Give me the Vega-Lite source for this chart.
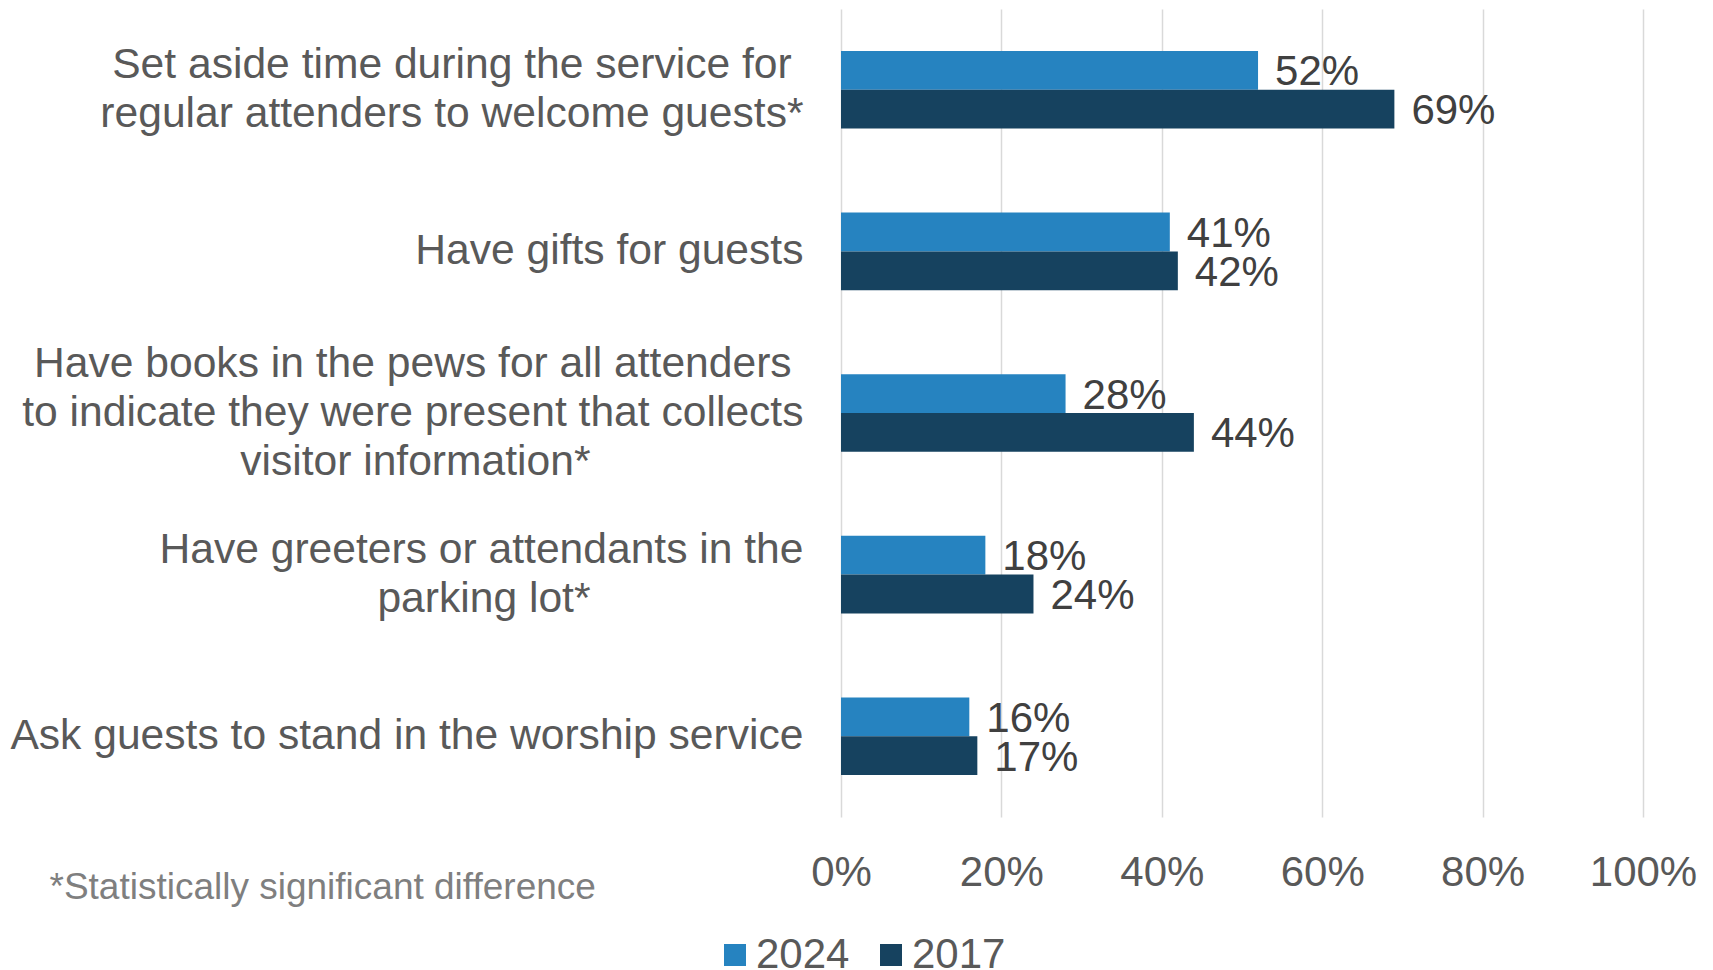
{
  "$schema": "https://vega.github.io/schema/vega-lite/v6.json",
  "width": 802,
  "height": 808,
  "autosize": {"type": "none"},
  "padding": {"left": 841, "top": 9, "right": 70, "bottom": 153},
  "background": "white",
  "config": {"view": {"stroke": null}, "font": "Liberation Sans"},
  "data": {
    "values": [
      {"item": "Set aside time during the service for\u00a0\u200b|regular attenders to welcome guests*", "year": "2024", "value": 0.52},
      {"item": "Set aside time during the service for\u00a0\u200b|regular attenders to welcome guests*", "year": "2017", "value": 0.69},
      {"item": "Have gifts for guests", "year": "2024", "value": 0.41},
      {"item": "Have gifts for guests", "year": "2017", "value": 0.42},
      {"item": "Have books in the pews for all attenders\u00a0\u200b|to indicate they were present that collects|visitor information*\u00a0\u00a0\u00a0\u00a0\u00a0\u00a0\u00a0\u00a0\u00a0\u00a0\u00a0\u00a0\u00a0\u00a0\u00a0\u00a0\u00a0\u00a0\u200b", "year": "2024", "value": 0.28},
      {"item": "Have books in the pews for all attenders\u00a0\u200b|to indicate they were present that collects|visitor information*\u00a0\u00a0\u00a0\u00a0\u00a0\u00a0\u00a0\u00a0\u00a0\u00a0\u00a0\u00a0\u00a0\u00a0\u00a0\u00a0\u00a0\u00a0\u200b", "year": "2017", "value": 0.44},
      {"item": "Have greeters or attendants in the|parking lot*\u00a0\u00a0\u00a0\u00a0\u00a0\u00a0\u00a0\u00a0\u00a0\u00a0\u00a0\u00a0\u00a0\u00a0\u00a0\u00a0\u00a0\u00a0\u200b", "year": "2024", "value": 0.18},
      {"item": "Have greeters or attendants in the|parking lot*\u00a0\u00a0\u00a0\u00a0\u00a0\u00a0\u00a0\u00a0\u00a0\u00a0\u00a0\u00a0\u00a0\u00a0\u00a0\u00a0\u00a0\u00a0\u200b", "year": "2017", "value": 0.24},
      {"item": "Ask guests to stand in the worship service", "year": "2024", "value": 0.16},
      {"item": "Ask guests to stand in the worship service", "year": "2017", "value": 0.17}
    ]
  },
  "encoding": {
    "y": {
      "field": "item",
      "type": "nominal",
      "sort": null,
      "scale": {"paddingInner": 0.52, "paddingOuter": 0.26},
      "axis": {
        "title": null,
        "domain": false,
        "ticks": false,
        "labelPadding": 38,
        "labelFontSize": 42.6,
        "labelColor": "#595959",
        "labelLineHeight": 49,
        "labelLimit": 2000,
        "labelBaseline": "middle",
        "labelOffset": {
          "condition": [
            {"test": "length(split(datum.label, '|')) == 3", "value": -49},
            {"test": "length(split(datum.label, '|')) == 2", "value": -25}
          ],
          "value": 0
        },
        "labelExpr": "split(datum.label, '|')"
      }
    },
    "yOffset": {
      "field": "year",
      "type": "nominal",
      "sort": ["2024", "2017"],
      "scale": {"paddingInner": 0, "paddingOuter": 0}
    },
    "x": {
      "field": "value",
      "type": "quantitative",
      "scale": {"domain": [0, 1]},
      "axis": {
        "title": "*Statistically significant difference",
        "titleX": -792,
        "titleY": 70,
        "titleAlign": "left",
        "titleBaseline": "middle",
        "titleFontSize": 37,
        "titleFontWeight": "normal",
        "titleColor": "#7f7f7f",
        "format": ".0%",
        "values": [0, 0.2, 0.4, 0.6, 0.8, 1],
        "domain": false,
        "ticks": false,
        "tickSize": 0,
        "labelPadding": 35,
        "labelFontSize": 42,
        "labelColor": "#595959",
        "labelFlush": false,
        "grid": true,
        "gridColor": "#d9d9d9",
        "gridWidth": 1.5
      }
    }
  },
  "layer": [
    {
      "mark": {"type": "bar"},
      "encoding": {
        "color": {
          "field": "year",
          "type": "nominal",
          "scale": {"domain": ["2024", "2017"], "range": ["#2683C0", "#16425F"]},
          "legend": {
            "orient": "none",
            "legendX": -127,
            "legendY": 925,
            "direction": "horizontal",
            "title": null,
            "symbolType": "square",
            "symbolSize": 484,
            "symbolStrokeWidth": 0,
            "symbolOpacity": 1,
            "labelFontSize": 42,
            "labelColor": "#595959",
            "labelOffset": 0,
            "columnPadding": 20
          }
        }
      }
    },
    {
      "mark": {"type": "text", "align": "left", "baseline": "middle", "dx": 17, "dy": 2, "fontSize": 42, "color": "#404040"},
      "encoding": {"text": {"field": "value", "type": "quantitative", "format": ".0%"}}
    }
  ]
}
